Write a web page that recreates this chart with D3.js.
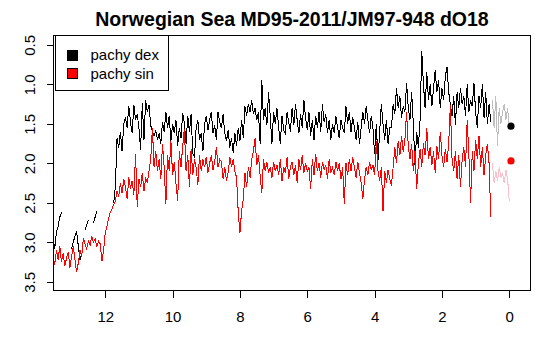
<!DOCTYPE html>
<html>
<head>
<meta charset="utf-8">
<script src="https://cdn.jsdelivr.net/npm/d3@7"></script>
<style>
  html, body { margin: 0; padding: 0; background: #ffffff; }
  svg { display: block; font-family: "Liberation Sans", Arial, sans-serif; }
</style>
</head>
<body>
<svg id="chart" width="548" height="344"></svg>
<script>
// ---------------- data ----------------
const title = "Norwegian Sea MD95-2011/JM97-948 dO18";
const seriesNames = ["pachy dex", "pachy sin"];
const xTicks = [12, 10, 8, 6, 4, 2, 0];
const yTicks = [0.5, 1.0, 1.5, 2.0, 2.5, 3.0, 3.5];

// sample ages (ka BP), shared by both series
const ages = [
  13.55,13.50,13.45,13.40,13.35,13.30,13.25,13.20,13.15,13.10,
  13.05,13.00,12.95,12.90,12.85,12.80,12.75,12.70,12.65,12.60,
  12.55,12.50,12.45,12.40,12.35,12.30,12.25,12.20,12.15,12.10,
  12.05,12.00,11.95,11.90,11.85,11.80,11.75,11.70,11.65,11.60,
  11.55,11.50,11.45,11.40,11.35,11.30,11.25,11.20,11.15,11.10,
  11.05,11.00,10.95,10.90,10.85,10.80,10.75,10.70,10.65,10.60,
  10.55,10.50,10.45,10.40,10.35,10.30,10.25,10.20,10.15,10.10,
  10.05,10.00,9.95,9.90,9.85,9.80,9.75,9.70,9.65,9.60,
  9.55,9.50,9.45,9.40,9.35,9.30,9.25,9.20,9.15,9.10,
  9.05,9.00,8.95,8.90,8.85,8.80,8.75,8.70,8.65,8.60,
  8.55,8.50,8.45,8.40,8.35,8.30,8.25,8.20,8.15,8.10,
  8.05,8.00,7.95,7.90,7.85,7.80,7.75,7.70,7.65,7.60,
  7.55,7.50,7.45,7.40,7.35,7.30,7.25,7.20,7.15,7.10,
  7.05,7.00,6.95,6.90,6.85,6.80,6.75,6.70,6.65,6.60,
  6.55,6.50,6.45,6.40,6.35,6.30,6.25,6.20,6.15,6.10,
  6.05,6.00,5.95,5.90,5.85,5.80,5.75,5.70,5.65,5.60,
  5.55,5.50,5.45,5.40,5.35,5.30,5.25,5.20,5.15,5.10,
  5.05,5.00,4.95,4.90,4.85,4.80,4.75,4.70,4.65,4.60,
  4.55,4.50,4.45,4.40,4.35,4.30,4.25,4.20,4.15,4.10,
  4.05,4.00,3.95,3.90,3.85,3.80,3.75,3.70,3.65,3.60,
  3.55,3.50,3.45,3.40,3.35,3.30,3.25,3.20,3.15,3.10,
  3.05,3.00,2.95,2.90,2.85,2.80,2.75,2.70,2.65,2.60,
  2.55,2.50,2.45,2.40,2.35,2.30,2.25,2.20,2.15,2.10,
  2.05,2.00,1.95,1.90,1.85,1.80,1.75,1.70,1.65,1.60,
  1.55,1.50,1.45,1.40,1.35,1.30,1.25,1.20,1.15,1.10,
  1.05,1.00,0.95,0.90,0.85,0.80,0.75,0.70,0.65,0.60,
  0.55
];

// pachy dex d18O (null = gap)
const dex = [
  2.95,3.08,2.86,2.80,2.68,2.62,null,null,null,null,
  null,3.08,3.00,2.92,2.86,3.05,3.22,3.15,null,2.84,
  2.78,2.72,null,null,2.76,2.68,2.60,null,null,null,
  null,null,null,null,null,null,2.50,2.30,1.68,1.80,
  1.60,1.85,1.50,1.42,1.55,1.27,1.48,1.62,1.26,1.45,
  1.38,1.55,1.83,1.24,1.70,1.20,1.35,1.26,1.52,1.60,
  1.65,1.58,1.70,1.62,1.75,1.48,1.60,1.35,1.55,1.40,
  1.72,1.50,1.62,1.45,1.78,1.55,1.68,1.36,1.50,1.75,
  1.40,1.60,1.38,1.88,1.92,1.55,1.45,1.70,1.62,1.85,
  1.50,1.40,1.58,1.45,1.35,1.62,1.52,1.70,1.35,1.48,
  1.55,1.38,1.62,1.72,1.58,1.80,1.68,1.87,1.62,1.78,
  1.55,1.72,1.45,1.68,1.28,1.40,1.25,1.35,1.20,1.38,
  1.30,1.45,1.35,1.75,0.95,1.45,1.30,1.52,1.10,1.40,
  1.75,1.35,1.50,1.30,1.55,1.75,1.40,1.58,1.62,1.35,
  1.48,1.60,1.30,1.52,1.25,1.45,1.62,1.38,1.55,1.20,
  1.42,1.58,1.35,1.65,1.45,1.70,1.40,1.55,1.35,1.60,
  1.25,1.48,1.38,1.62,1.45,1.70,1.50,1.62,1.40,1.55,
  1.68,1.45,1.55,1.62,1.28,1.50,1.35,1.60,1.42,1.55,
  1.70,1.48,1.76,1.55,1.35,1.50,1.28,1.45,1.62,1.40,
  1.55,1.88,1.50,1.96,1.60,1.25,1.50,1.70,1.45,1.75,
  1.55,1.55,1.25,1.38,1.05,1.30,1.15,1.42,1.28,1.35,
  0.98,1.30,1.45,1.10,1.50,2.02,1.60,1.80,1.45,0.58,
  1.00,1.30,0.85,1.20,1.00,1.28,1.05,0.82,1.10,0.95,
  1.30,1.05,1.20,0.90,0.78,1.10,1.25,1.40,1.15,1.52,
  1.10,1.30,1.05,1.25,1.15,1.40,1.00,1.35,1.20,1.28,
  0.98,1.35,1.55,1.15,1.30,1.00,1.42,1.10,1.50,1.25,
  1.48
];

// pachy sin d18O
const sin = [
  3.18,3.28,3.10,3.22,3.05,3.25,3.14,3.30,3.20,3.12,
  3.32,3.18,3.05,3.22,3.38,3.26,3.10,3.18,2.95,3.02,
  3.08,2.98,3.04,2.92,3.00,2.96,3.06,2.98,3.02,3.24,
  3.10,2.88,2.80,2.70,2.62,2.58,2.52,2.48,2.35,2.42,
  2.25,2.38,2.20,2.30,2.45,2.18,2.32,2.22,2.40,1.88,
  2.55,2.20,2.30,2.12,2.35,2.18,2.25,2.10,1.95,1.55,
  2.05,1.85,2.10,1.95,2.20,1.75,2.05,2.52,1.90,2.10,
  1.72,2.15,1.98,2.25,2.48,1.85,2.05,1.78,1.56,2.10,
  1.90,2.30,1.82,2.15,1.95,2.05,2.28,1.90,2.10,1.95,
  2.05,1.92,2.12,2.00,1.90,2.08,1.98,1.80,2.05,1.95,
  1.98,2.20,2.05,2.22,2.12,1.92,2.05,1.95,2.10,2.18,
  2.62,2.88,2.60,2.45,2.12,2.30,2.05,2.18,1.95,1.85,
  1.68,2.02,1.90,2.15,2.38,1.95,2.10,1.98,2.12,2.05,
  2.18,1.98,2.10,2.02,2.15,1.95,2.22,2.05,2.12,1.92,
  2.20,2.05,1.98,2.15,2.02,2.25,1.95,2.08,1.90,2.12,
  2.00,2.10,2.05,2.32,1.95,2.15,1.88,2.10,2.00,2.18,
  1.98,2.08,2.02,2.20,1.95,2.12,2.05,2.15,1.98,2.10,
  2.00,2.20,2.05,2.52,2.00,2.15,1.95,2.10,1.92,2.05,
  2.18,1.98,2.12,2.25,2.45,2.20,2.05,2.15,1.98,2.08,
  2.02,2.15,1.72,2.10,2.22,2.05,2.60,2.10,2.25,2.08,
  2.20,2.28,2.05,1.80,2.00,1.72,1.90,1.65,1.85,1.70,
  1.35,1.78,1.95,1.75,2.10,1.85,2.32,2.00,1.82,2.05,
  1.75,1.90,1.55,1.95,1.80,2.02,1.85,2.12,1.78,1.95,
  1.60,1.90,2.05,1.82,1.98,1.75,1.26,1.95,2.10,1.85,
  2.20,1.90,2.30,1.95,1.80,2.05,1.45,1.90,2.50,1.85,
  2.10,1.70,1.95,1.65,2.05,1.80,2.15,1.90,1.75,2.00,
  2.68
];

// most recent part (JM97-948), drawn in light colours
const agesRecent = [0.50,0.45,0.40,0.35,0.30,0.25,0.20,0.15,0.10,0.05,0.00];
const dexRecent  = [1.20,1.55,1.15,1.78,1.30,1.50,1.35,1.25,1.45,1.30,1.55];
const sinRecent  = [2.00,2.25,2.10,2.22,2.05,2.18,2.12,2.25,2.08,2.20,2.48];

// core-top values
const topAge = -0.05;
const topDex = 1.53;
const topSin = 1.97;

// ---------------- drawing ----------------
const svg = d3.select("#chart");
const L = 53.3, R = 530.7, T = 35, B = 291;

const x = d3.scaleLinear().domain([13.543, -0.636]).range([L, R]);
const y = d3.scaleLinear().domain([0.376, 3.616]).range([T, B]);

svg.append("defs").append("clipPath").attr("id", "clip")
  .append("rect").attr("x", L).attr("y", T).attr("width", R - L).attr("height", B - T);

const plot = svg.append("g").attr("clip-path", "url(#clip)");

function drawLine(xs, ys, color) {
  const pts = xs.map((a, i) => [a, ys[i]]);
  const line = d3.line()
    .defined(d => d[1] !== null)
    .x(d => x(d[0]))
    .y(d => y(d[1]));
  plot.append("path")
    .datum(pts)
    .attr("d", line)
    .attr("fill", "none")
    .attr("stroke", color)
    .attr("stroke-width", 1)
    .attr("shape-rendering", "crispEdges");
}

drawLine(ages, dex, "#000000");
drawLine(ages, sin, "#ff0000");
drawLine(agesRecent, dexRecent, "#bebebe");
drawLine(agesRecent, sinRecent, "#ffc0cb");

plot.append("circle").attr("cx", x(topAge)).attr("cy", y(topDex)).attr("r", 3.6).attr("fill", "#000000");
plot.append("circle").attr("cx", x(topAge)).attr("cy", y(topSin)).attr("r", 3.6).attr("fill", "#ff0000");

// frame
svg.append("rect")
  .attr("x", Math.round(L) + 0.5).attr("y", T + 0.5)
  .attr("width", Math.round(R) - Math.round(L) - 1).attr("height", B - T - 1)
  .attr("fill", "none").attr("stroke", "#000").attr("stroke-width", 1)
  .attr("shape-rendering", "crispEdges");

// x axis
const xAxis = svg.append("g")
  .attr("transform", `translate(0,${B - 0.5})`)
  .call(d3.axisBottom(x).tickValues(xTicks).tickSize(7).tickPadding(14).tickFormat(d3.format("d")));
xAxis.select(".domain").remove();
xAxis.selectAll("line").attr("stroke", "#000").attr("shape-rendering", "crispEdges");
xAxis.selectAll("text").attr("font-size", 15).attr("fill", "#000")
  .style("font-family", "'Liberation Sans', Arial, sans-serif");

// y axis (labels parallel to the axis, as in R)
const yAxis = svg.append("g")
  .attr("transform", `translate(${Math.round(L) + 0.5},0)`)
  .call(d3.axisLeft(y).tickValues(yTicks).tickSize(7).tickFormat(d3.format(".1f")));
yAxis.select(".domain").remove();
yAxis.selectAll("line").attr("stroke", "#000").attr("shape-rendering", "crispEdges");
yAxis.selectAll("text")
  .attr("x", null).attr("dy", null)
  .attr("transform", "translate(-18.5,0) rotate(-90)")
  .attr("text-anchor", "middle")
  .attr("font-size", 15).attr("fill", "#000")
  .style("font-family", "'Liberation Sans', Arial, sans-serif");

// title
svg.append("text")
  .attr("x", (L + R) / 2).attr("y", 26)
  .attr("text-anchor", "middle")
  .attr("font-size", 19.5).attr("font-weight", "bold")
  .attr("fill", "#000")
  .text(title);

// legend
const lg = svg.append("g");
lg.append("rect")
  .attr("x", 55.5).attr("y", 35.5).attr("width", 113).attr("height", 55)
  .attr("fill", "#fff").attr("stroke", "#000").attr("shape-rendering", "crispEdges");
const legendColors = ["#000000", "#ff0000"];
seriesNames.forEach((name, i) => {
  const cy = 54.5 + i * 18.5;
  lg.append("rect")
    .attr("x", 67.5).attr("y", Math.round(cy - 5) + 0.5).attr("width", 10).attr("height", 10)
    .attr("fill", legendColors[i]).attr("stroke", "#000").attr("shape-rendering", "crispEdges");
  lg.append("text")
    .attr("x", 90.5).attr("y", cy + 5.5)
    .attr("font-size", 15).attr("fill", "#000")
    .text(name);
});
</script>
</body>
</html>
